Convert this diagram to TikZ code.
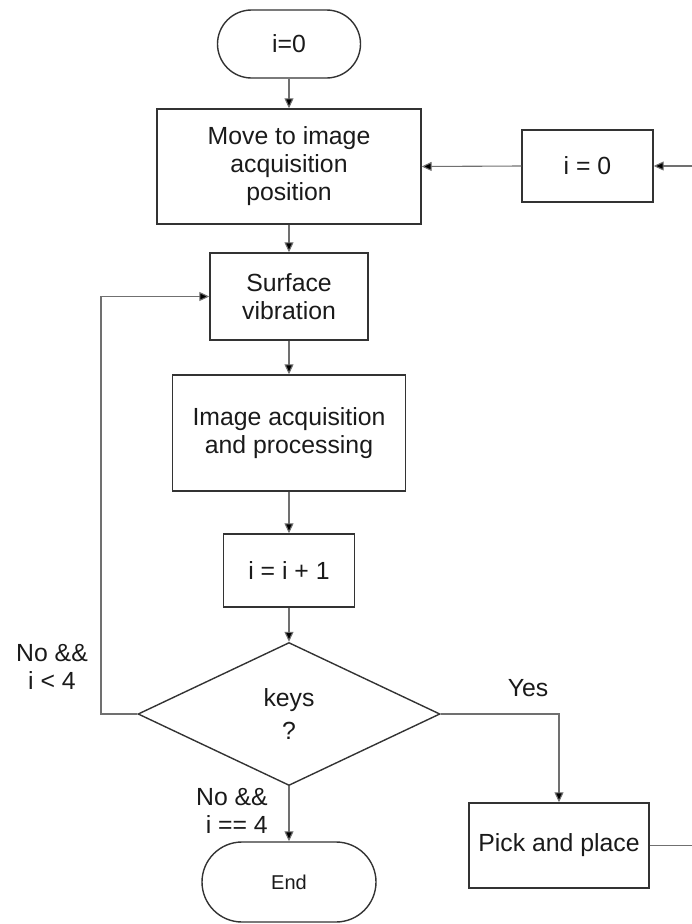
\documentclass[tikz,border=0pt]{standalone}
\usepackage{fontspec}
\setmainfont{Liberation Sans}
\usetikzlibrary{arrows.meta,shapes.geometric,shapes.misc}
\definecolor{edge}{HTML}{333333}
\definecolor{wire}{HTML}{707070}
\definecolor{ink}{HTML}{1A1A1A}
\tikzset{
  base/.style={draw=edge, line width=1.4pt, inner sep=0pt, align=center,
    text=ink, font=\fontsize{24.8pt}{28pt}\selectfont},
  box/.style={base, rectangle},
  term/.style={base, rounded rectangle},
  cond/.style={base, diamond},
  conn/.style={draw=wire, line width=1.1pt,
    -{Triangle[length=10pt,width=9pt,fill=black]}},
  plain/.style={draw=wire, line width=1.1pt},
  lbl/.style={text=ink, font=\fontsize{24.8pt}{28pt}\selectfont, inner sep=0pt}
}
\begin{document}
\begin{tikzpicture}[x=1pt,y=-1pt]
\useasboundingbox (0,0) rectangle (692,924);

% main column
\node[term, minimum width=143pt, minimum height=68pt] (start) at (289,44) {i=0};
\node[box, minimum width=264pt, minimum height=115pt] (move) at (289,166.5)
  {Move to image\\acquisition\\position};
\node[box, minimum width=131pt, minimum height=72pt] (reset) at (587.5,166) {i = 0};
\node[box, minimum width=158pt, minimum height=87pt] (surf) at (289,296.5)
  {Surface\\vibration};
\node[box, minimum width=233pt, minimum height=116pt] (img) at (289,433)
  {Image acquisition\\and processing};
\node[box, minimum width=131pt, minimum height=73pt] (inc) at (289,570.5) {i = i + 1};
\node[cond, minimum width=302pt, minimum height=143pt] (dec) at (289,714)
  {keys\\[5pt]?};
\node[box, minimum width=180pt, minimum height=85pt] (pick) at (559,845.5)
  {Pick and place};
\node[term, minimum width=174pt, minimum height=80pt,
  font=\fontsize{20pt}{24pt}\selectfont] (stop) at (289,882) {End};

% free ends and bends
\coordinate (rin) at (692,166);
\coordinate (rout) at (692,845.5);
\coordinate (lc) at (101,714);

% connectors
\draw[conn] (start.south) -- (move.north);
\draw[conn] (move.south) -- (surf.north);
\draw[conn] (surf.south) -- (img.north);
\draw[conn] (img.south) -- (inc.north);
\draw[conn] (inc.south) -- (dec.north);
\draw[conn] (dec.south) -- (stop.north);
\draw[conn] (dec.east) -| (pick.north);
\draw[conn] (dec.west) -- (lc) |- (surf.west);
\draw[conn] (reset.west) -- (move.east);
\draw[conn] (rin) -- (reset.east);
\draw[plain] (pick.east) -- (rout);

% branch labels
\node[lbl, align=center] (lno) at (52,667) {No \&\&\\i < 4};
\node[lbl, align=right, anchor=east] (lend) at (268,811) {No \&\&\\i == 4};
\node[lbl] (lyes) at (528,688) {Yes};
\end{tikzpicture}
\end{document}
